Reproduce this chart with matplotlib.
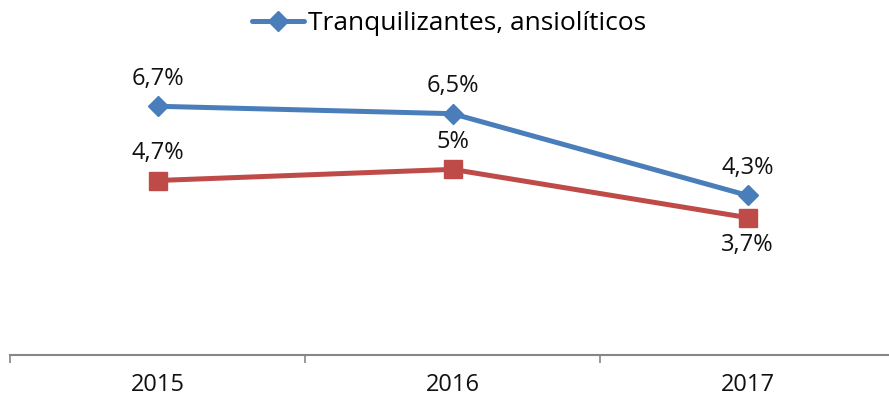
import matplotlib
matplotlib.use("Agg")
import matplotlib.pyplot as plt
import numpy as np

YEARS = ["2015", "2016", "2017"]
TRANQ = [6.7, 6.5, 4.3]
OTHER = [4.7, 5.0, 3.7]
TRANQ_LBL = ["6,7%", "6,5%", "4,3%"]
OTHER_LBL = ["4,7%", "5%", "3,7%"]

BLUE = "#4A7EBB"
RED = "#BE4B48"
TXT = "#111111"

plt.rcParams["font.family"] = ["Open Sans", "DejaVu Sans"]


def main():
    fig = plt.figure(figsize=(8.89, 4.0), dpi=100)
    ax = fig.add_axes([10 / 889, 45 / 400, 885 / 889, 297 / 400])
    x = np.arange(len(YEARS))

    ax.plot(x, TRANQ, color=BLUE, lw=3.6, marker="D", ms=10,
            label="Tranquilizantes, ansiolíticos", solid_capstyle="round")
    ax.plot(x, OTHER, color=RED, lw=3.6, marker="s", ms=13)

    for xi, v, t in zip(x, TRANQ, TRANQ_LBL):
        ax.annotate(t, (xi, v), xytext=(0, 11), textcoords="offset points",
                    ha="center", va="bottom", fontsize=17, color=TXT)
    offs = [11, 11, -11]
    for xi, v, t, o in zip(x, OTHER, OTHER_LBL, offs):
        ax.annotate(t, (xi, v), xytext=(0, o), textcoords="offset points",
                    ha="center", va="bottom" if o > 0 else "top",
                    fontsize=17, color=TXT)

    ax.set_xlim(-0.5, 2.5)
    ax.set_ylim(0, 8)
    for s in ["top", "right", "left"]:
        ax.spines[s].set_visible(False)
    ax.spines["bottom"].set_color("#868686")
    ax.spines["bottom"].set_linewidth(1.5)
    ax.set_yticks([])
    ax.set_xticks(x)
    ax.set_xticklabels(YEARS, fontsize=17, color=TXT)
    ax.tick_params(axis="x", which="major", length=0, pad=13)
    ax.set_xticks([-0.5, 0.5, 1.5, 2.5], minor=True)
    ax.tick_params(axis="x", which="minor", length=6, width=1.2, color="#868686")

    fig.legend(loc="center", bbox_to_anchor=(0.505, 0.94), frameon=False,
               fontsize=19, handlelength=2.0, handletextpad=0.15)

    fig.savefig("out.png", dpi=100)


if __name__ == "__main__":
    main()
